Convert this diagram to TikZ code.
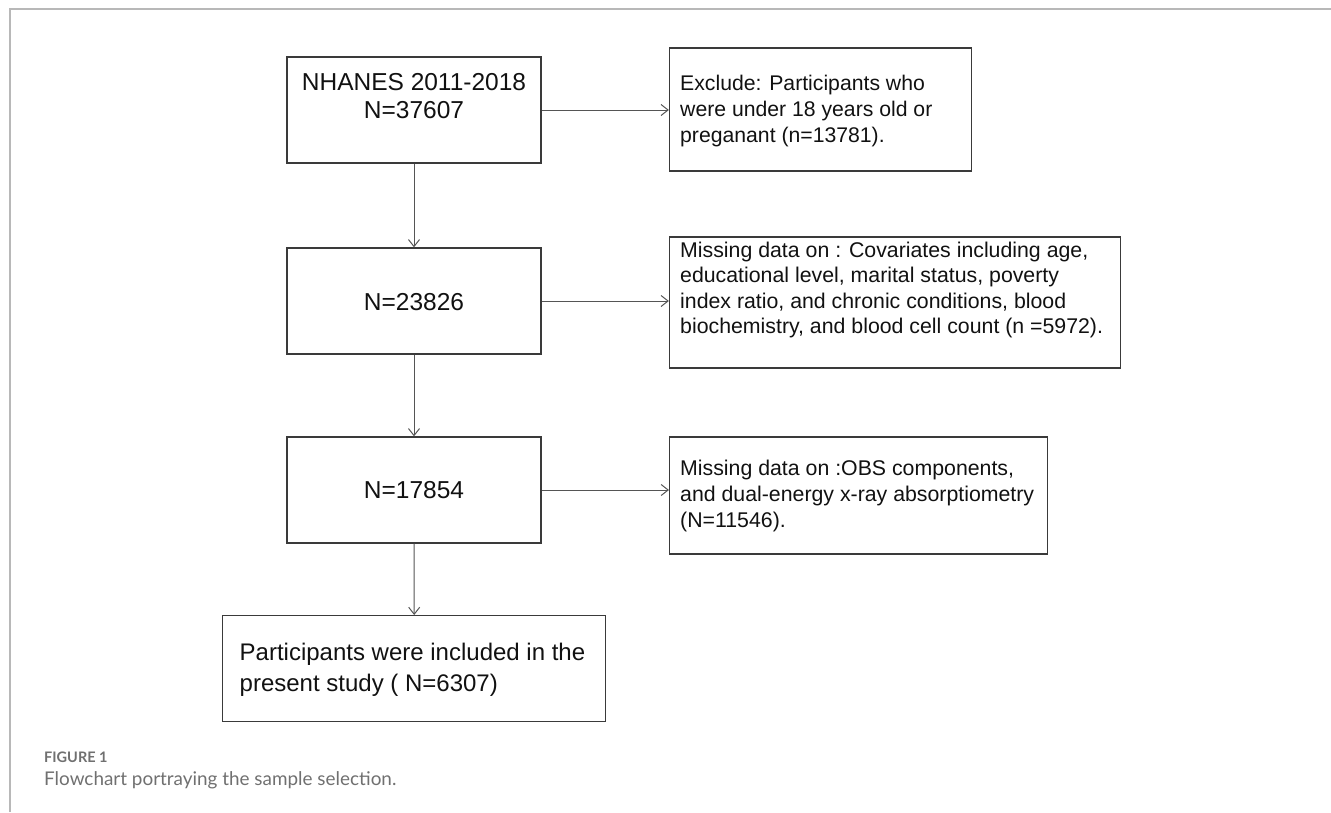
\documentclass[tikz,border=0pt]{standalone}
\usepackage{fontspec}
\setmainfont{Liberation Sans}
\newfontfamily\capfont{Lato}
\usetikzlibrary{arrows.meta}
\definecolor{boxline}{HTML}{3A3A3A}
\definecolor{arrowc}{HTML}{555555}
\definecolor{txt}{HTML}{111111}
\definecolor{framec}{HTML}{B8B8B8}
\definecolor{capc}{HTML}{707070}
\begin{document}
\begin{tikzpicture}[x=1pt,y=-1pt,
  box/.style={draw=boxline, line width=1.3pt, rectangle, inner sep=0pt},
  lbl/.style={text=txt, inner sep=0pt, align=left},
  conn/.style={draw=arrowc, line width=1pt, -{Straight Barb[length=7pt,width=11pt]}},
  frameline/.style={draw=framec, line width=1.6pt}
]
\useasboundingbox (0,0) rectangle (1331,812);
\draw[frameline] (10,812) -- (10,9) -- (1331,9);

% main column boxes
\node[box, minimum width=254pt, minimum height=106pt] (b1) at (414,110) {};
\node[box, minimum width=254pt, minimum height=106pt] (b2) at (414,301) {};
\node[box, minimum width=254pt, minimum height=106pt] (b3) at (414,490) {};
\node[box, minimum width=383pt, minimum height=106pt] (b4) at (414.2,668.7) {};
% exclusion boxes
\node[box, minimum width=302pt, minimum height=123pt] (e1) at (820.5,109.5) {};
\node[box, minimum width=451pt, minimum height=131pt] (e2) at (895,302.5) {};
\node[box, minimum width=378pt, minimum height=117pt] (e3) at (858.6,495.4) {};

% texts
\node[lbl, align=center, font=\fontsize{24.5}{28}\selectfont] (t1) at (414,96) {NHANES 2011-2018\\N=37607};
\node[lbl, font=\fontsize{24.5}{28}\selectfont] (t2) at (414,302) {N=23826};
\node[lbl, font=\fontsize{24.5}{28}\selectfont] (t3) at (414,490) {N=17854};
\node[lbl, anchor=west, font=\fontsize{24}{31}\selectfont] (t4) at (239.5,669.5) {Participants were included in the\\present study ( N=6307)};
\node[lbl, anchor=west, font=\fontsize{21.2}{26}\selectfont] (te1) at (680,111) {Exclude: Participants who\\were under 18 years old or\\preganant (n=13781).};
\node[lbl, anchor=west, font=\fontsize{21.3}{25.5}\selectfont] (te2) at (680,290) {Missing data on : Covariates including age,\\educational level, marital status, poverty\\index ratio, and chronic conditions, blood\\biochemistry, and blood cell count (n =5972).};
\node[lbl, anchor=west, font=\fontsize{21.3}{25.8}\selectfont] (te3) at (680,496) {Missing data on :OBS components,\\and dual-energy x-ray absorptiometry\\(N=11546).};

% connectors
\draw[conn] (b1.south) -- (b2.north);
\draw[conn] (b2.south) -- (b3.north);
\draw[conn] (b3.south) -- (b4.north);
\draw[conn] (b1.east) -- (b1.east -| e1.west);
\draw[conn] (b2.east) -- (b2.east -| e2.west);
\draw[conn] (b3.east) -- (b3.east -| e3.west);

% caption
\node[anchor=base west, inner sep=0pt, text=capc, font=\capfont\bfseries\fontsize{14.5}{16}\selectfont] (cap1) at (44,762) {FIGURE 1};
\node[anchor=base west, inner sep=0pt, text=capc, font=\capfont\fontsize{18.9}{20}\selectfont] (cap2) at (44,785) {Flowchart portraying the sample selection.};
\end{tikzpicture}
\end{document}
